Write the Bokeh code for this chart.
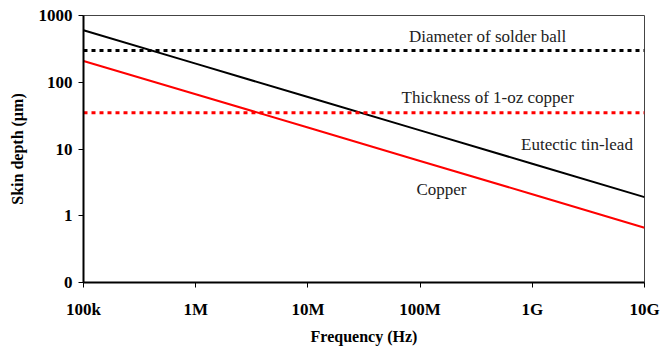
from bokeh.plotting import figure
from bokeh.models import FixedTicker, ColumnDataSource
from bokeh.core.properties import value
from bokeh.embed import file_html
from bokeh.resources import INLINE

freq = [1e5, 1e6, 1e7, 1e8, 1e9, 1e10]
tinlead = [600, 190, 60, 19, 6.0, 1.9]
copper = [208, 66, 21, 6.6, 2.1, 0.66]
solder_ball = 300
copper_thick = 35
x_ticks = [1e5, 1e6, 1e7, 1e8, 1e9, 1e10]
x_labels = ["100k", "1M", "10M", "100M", "1G", "10G"]
y_ticks = [0.1, 1, 10, 100, 1000]
y_labels = ["0", "1", "10", "100", "1000"]
notes = ["Diameter of solder ball", "Thickness of 1-oz copper", "Eutectic tin-lead", "Copper"]
note_x = [4.0e8, 4.0e8, 2.5e9, 1.55e8]
note_y = [480, 60, 11.5, 2.5]

FONT = "Liberation Serif"

p = figure(width=662, height=347, x_axis_type="log", y_axis_type="log",
           x_range=(1e5, 1e10), y_range=(0.1, 1000),
           output_backend="svg", toolbar_location=None,
           min_border_left=83, min_border_right=18, min_border_top=15, min_border_bottom=64)
p.grid.visible = False
p.outline_line_color = "#444444"
p.outline_line_width = 1
p.background_fill_color = "white"
p.border_fill_color = "white"

for ax in (p.xaxis, p.yaxis):
    ax.axis_line_color = "black"
    ax.axis_line_width = 2
    ax.major_tick_line_color = "black"
    ax.major_tick_line_width = 1
    ax.major_tick_out = 5
    ax.major_tick_in = 0
    ax.minor_tick_line_color = None
    ax.major_label_text_font = FONT
    ax.major_label_text_font_style = "bold"
    ax.major_label_text_font_size = "17px"
    ax.major_label_text_color = "black"
    ax.axis_label_text_font = FONT
    ax.axis_label_text_font_style = "bold"
    ax.axis_label_text_font_size = "16px"
    ax.axis_label_text_color = "black"

p.xaxis.ticker = FixedTicker(ticks=x_ticks)
p.xaxis.major_label_overrides = {t: l for t, l in zip(x_ticks, x_labels)}
p.yaxis.ticker = FixedTicker(ticks=y_ticks)
p.yaxis.major_label_overrides = {t: l for t, l in zip(y_ticks, y_labels)}
p.xaxis.axis_label = "Frequency (Hz)"
p.yaxis.axis_label = "Skin depth (\u00b5m)"
p.xaxis.major_label_standoff = 12
p.xaxis.axis_label_standoff = 6
p.yaxis.major_label_standoff = 6
p.yaxis.axis_label_standoff = 10

p.line(freq, tinlead, line_color="black", line_width=2)
p.line(freq, copper, line_color="#ff0000", line_width=2)

p.line([x_ticks[0], x_ticks[-1]], [solder_ball, solder_ball], line_color="black",
       line_width=3, line_dash="4 4")
p.line([x_ticks[0], x_ticks[-1]], [copper_thick, copper_thick], line_color="#ff0000",
       line_width=3, line_dash="4 4")

src = ColumnDataSource(dict(x=note_x, y=note_y, t=notes))
p.text(x="x", y="y", text="t", source=src, text_font=value(FONT),
       text_font_size="17px", text_color="#222222", text_align="center",
       text_baseline="middle")

open("out.html", "w").write(file_html(p, INLINE))
